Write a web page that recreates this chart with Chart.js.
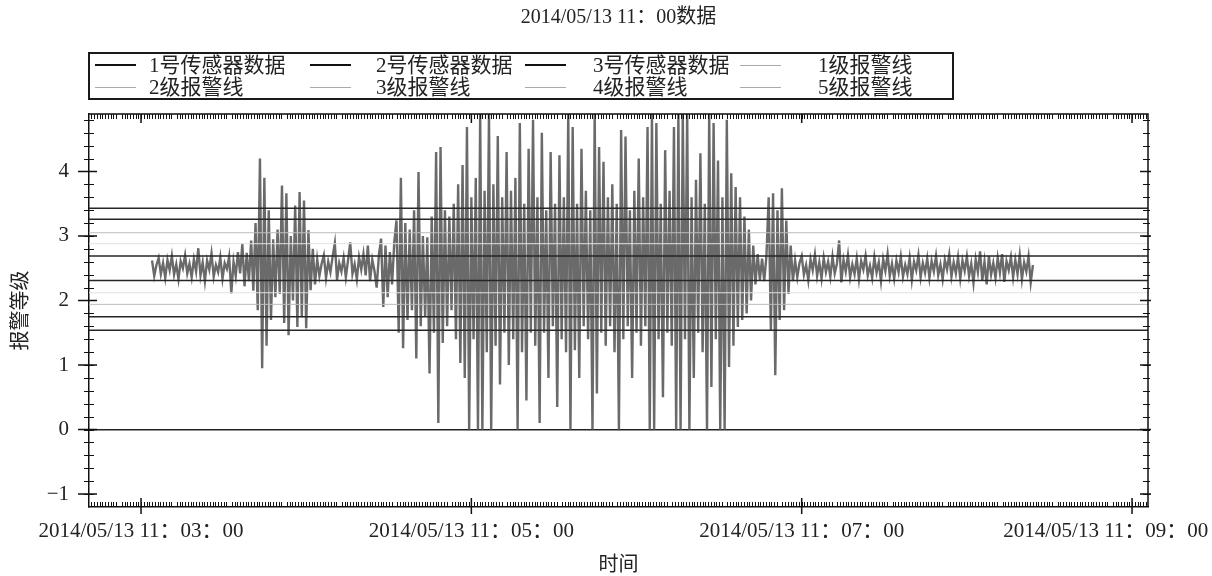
<!DOCTYPE html>
<html lang="zh-CN">
<head>
<meta charset="UTF-8">
<title>2014/05/13 11：00数据</title>
<script src="https://cdn.jsdelivr.net/npm/chart.js"></script>
<style>
  html, body { margin: 0; padding: 0; background: #fff; }
  #wrap { position: relative; width: 1212px; height: 576px; }
  #legend {
    position: absolute; left: 88px; top: 52px; width: 857px; height: 44px;
    border: 2px solid #1a1a1a; padding-left: 5px;
    display: grid; grid-template-columns: repeat(4, 215px); grid-auto-rows: 22px;
    font: 21px "Liberation Serif", "Noto Sans CJK SC", serif; color: #222; line-height: 22px;
  }
  .item { display: flex; align-items: center; white-space: nowrap; }
  .swatch { width: 41px; height: 0; }
</style>
</head>
<body>
<div id="wrap">
  <canvas id="chart" width="1212" height="576"></canvas>
  <div id="legend"></div>
</div>
<script>
// time axis in seconds after 11:00:00
const sampleStart = 184;
const sampleStep = 0.8;

// 1号传感器 readings
const sensor1 = [
  2.62, 2.38, 2.55, 2.66, 2.41, 2.58, 2.35, 2.63, 2.47, 2.69,
  2.40, 2.56, 2.33, 2.61, 2.50, 2.70, 2.42, 2.57, 2.36, 2.64,
  2.45, 2.81, 2.39, 2.59, 2.30, 2.62, 2.48, 2.73, 2.37, 2.55,
  2.44, 2.67, 2.34, 2.58, 2.49, 2.68, 2.11, 2.60, 2.38, 2.75,
  2.42,
  2.88, 2.22, 2.74, 2.30, 2.93, 2.15,
  3.20, 1.85, 4.20, 0.95, 3.90, 1.30, 3.40, 1.70, 2.95, 2.05,
  3.10, 2.10, 3.78, 1.65, 3.66, 1.46, 3.00, 2.00, 3.47, 1.59,
  3.68, 1.74, 3.55, 1.57, 3.09, 2.16, 2.80, 2.25,
  2.64, 2.38, 2.57, 2.70, 2.35, 2.60, 2.44, 2.68, 2.89, 2.32,
  2.58, 2.45, 2.66, 2.36, 2.62, 2.90, 2.41, 2.56, 2.33, 2.67,
  2.48, 2.72, 2.39, 2.85, 2.30, 2.63, 2.46, 2.20, 2.70,
  2.96, 1.90, 2.85, 2.05, 2.75, 2.25, 2.90,
  3.24, 1.50, 3.90, 1.26, 3.20, 1.70, 3.10, 1.85, 3.40, 1.10,
  3.99, 1.60, 3.00, 1.75, 2.98, 0.87, 3.30, 1.50, 4.30, 0.10,
  4.38, 1.34, 3.40, 1.60, 3.30, 1.85, 3.50, 1.40, 3.80, 1.03,
  4.10, 0.80, 4.69, 0.00, 3.60, 1.40, 3.90, 0.00, 4.90, 0.00,
  3.70, 1.20, 4.90, 0.00, 3.80, 1.30, 4.55, 0.70, 3.60, 1.50,
  4.30, 1.00, 3.70, 1.40, 3.90, 0.00, 4.75, 1.20, 3.50, 0.45,
  4.35, 1.50, 4.80, 1.30, 3.60, 0.10, 4.60, 1.50, 3.40, 0.80,
  4.30, 1.60, 3.50, 0.35, 4.25, 1.40, 3.60, 1.20, 4.90, 0.00,
  4.69, 1.23, 3.50, 0.80, 4.35, 1.60, 3.70, 1.40, 3.40, 0.00,
  4.90, 0.56, 4.38, 1.50, 4.15, 1.30, 3.60, 1.60, 3.80, 1.20,
  3.50, 0.00, 4.64, 1.40, 4.54, 1.60, 3.40, 0.80, 3.70, 1.50,
  4.20, 1.30, 3.60, 1.60, 4.69, 0.00, 4.90, 0.00, 4.75, 1.40,
  3.50, 0.50, 4.33, 1.50, 3.70, 1.30, 4.69, 0.00, 4.90, 0.00,
  4.90, 1.40, 4.90, 0.00, 3.60, 0.80, 3.87, 1.50, 4.28, 1.20,
  3.50, 0.00, 4.90, 0.66, 4.75, 1.40, 4.17, 0.00, 3.60, 0.00,
  4.80, 0.97, 3.97, 1.30, 3.76, 1.59, 3.60, 1.70, 3.30, 1.80,
  3.10, 2.00, 2.85, 2.25, 2.72, 2.32, 2.65, 2.30, 2.70, 3.60,
  1.54, 3.66, 0.84, 3.40, 1.70, 3.74, 1.85, 3.24, 2.10, 2.85, 2.30,
  2.62, 2.36, 2.58, 2.69, 2.40, 2.55, 2.31, 2.64, 2.47, 2.71,
  2.38, 2.59, 2.34, 2.66, 2.44, 2.60, 2.37, 2.68, 2.42, 2.57,
  2.93, 2.28, 2.63, 2.45, 2.70, 2.36, 2.56, 2.41, 2.65, 2.33,
  2.61, 2.48, 2.69, 2.39, 2.54, 2.35, 2.67, 2.43, 2.59, 2.30,
  2.64, 2.46, 2.72, 2.38, 2.57, 2.34, 2.62, 2.44, 2.68, 2.37,
  2.55, 2.41, 2.66, 2.32, 2.60, 2.47, 2.70, 2.36, 2.58, 2.43,
  2.65, 2.35, 2.61, 2.45, 2.69, 2.39, 2.56, 2.33, 2.63, 2.48,
  2.71, 2.37, 2.59, 2.42, 2.67, 2.34, 2.62, 2.46, 2.68, 2.38,
  2.57, 2.27, 2.64, 2.44, 2.76, 2.31, 2.60, 2.25, 2.69, 2.40,
  2.58, 2.35, 2.66, 2.43, 2.72, 2.29, 2.61, 2.47, 2.67, 2.36,
  2.63, 2.41, 2.70, 2.33, 2.59, 2.45, 2.68, 2.28, 2.55
];

const sensorNames = ['1号传感器数据', '2号传感器数据', '3号传感器数据'];
const alarmNames = ['1级报警线', '2级报警线', '3级报警线', '4级报警线', '5级报警线'];
const alarmUpper = [2.69, 2.88, 3.05, 3.26, 3.43];
const alarmLower = [2.31, 2.12, 1.94, 1.75, 1.54];
const alarmColors = ['#262626', '#e2e2e2', '#bcbcbc', '#262626', '#262626'];
const alarmWidths = [1.5, 1, 1, 1.5, 1.5];

const xTicks = [180, 300, 420, 540];
const xTickLabels = ['2014/05/13 11：03：00', '2014/05/13 11：05：00', '2014/05/13 11：07：00', '2014/05/13 11：09：00'];
const yTicks = [-1, 0, 1, 2, 3, 4];
const yTickLabels = ['\u22121', '0', '1', '2', '3', '4'];

const xMin = 161.1, xMax = 545.8;
const yMin = -1.2, yMax = 4.89;

const FONT = '"Liberation Serif", "Noto Sans CJK SC", serif';
const INK = '#222';

// legend (boxed, 4 columns)
const legendTextOffset = [54, 66, 68, 78];
const legendEntries = sensorNames.map(n => ({ text: n, color: '#111', width: 2 }))
  .concat(alarmNames.map(n => ({ text: n, color: '#aaa', width: 1 })));
const legendEl = document.getElementById('legend');
legendEntries.forEach((e, i) => {
  const item = document.createElement('div');
  item.className = 'item';
  const sw = document.createElement('span');
  sw.className = 'swatch';
  sw.style.borderTop = e.width + 'px solid ' + e.color;
  const tx = document.createElement('span');
  tx.textContent = e.text;
  tx.style.marginLeft = (legendTextOffset[i % 4] - 41) + 'px';
  item.appendChild(sw);
  item.appendChild(tx);
  legendEl.appendChild(item);
});

const datasets = [];
alarmNames.forEach((name, k) => {
  [alarmUpper[k], alarmLower[k]].forEach(v => {
    datasets.push({
      label: name,
      data: [{ x: xMin, y: v }, { x: xMax, y: v }],
      borderColor: alarmColors[k],
      borderWidth: alarmWidths[k],
      pointRadius: 0,
      order: 1
    });
  });
});
datasets.push({
  label: sensorNames[0],
  data: sensor1.map((v, i) => ({ x: sampleStart + i * sampleStep, y: v })),
  borderColor: '#6a6a6a',
  borderWidth: 2.4,
  pointRadius: 0,
  tension: 0,
  order: 2
});
datasets.push({ label: sensorNames[1], data: [], borderColor: '#111', pointRadius: 0, order: 3 });
datasets.push({ label: sensorNames[2], data: [], borderColor: '#111', pointRadius: 0, order: 3 });

// frame on top/right plus the minor and major tick marks
const frameTicks = {
  id: 'frameTicks',
  afterDatasetsDraw(chart) {
    const { ctx, chartArea: a, scales: { x, y } } = chart;
    ctx.save();
    ctx.strokeStyle = '#111';
    ctx.lineWidth = 1.5;
    ctx.beginPath();
    ctx.moveTo(a.left, a.top);
    ctx.lineTo(a.right, a.top);
    ctx.lineTo(a.right, a.bottom);
    ctx.stroke();

    ctx.lineWidth = 1;
    ctx.beginPath();
    for (let t = Math.ceil(x.min); t <= x.max; t++) {
      if (t % 20 === 12) continue;
      const px = Math.round(x.getPixelForValue(t)) + 0.5;
      ctx.moveTo(px, a.bottom); ctx.lineTo(px, a.bottom - 5);
      ctx.moveTo(px, a.top); ctx.lineTo(px, a.top + 5);
    }
    for (let k = Math.ceil(y.min / 0.2); k * 0.2 <= y.max; k++) {
      const py = Math.round(y.getPixelForValue(k * 0.2)) + 0.5;
      ctx.moveTo(a.left - 5, py); ctx.lineTo(a.left + 5, py);
      ctx.moveTo(a.right - 5, py); ctx.lineTo(a.right + 2, py);
    }
    ctx.stroke();

    ctx.lineWidth = 1.5;
    ctx.beginPath();
    xTicks.forEach(t => {
      const px = x.getPixelForValue(t);
      ctx.moveTo(px, a.bottom + 7); ctx.lineTo(px, a.bottom - 9);
      ctx.moveTo(px, a.top); ctx.lineTo(px, a.top + 9);
    });
    yTicks.forEach(v => {
      const py = y.getPixelForValue(v);
      ctx.moveTo(a.left - 11, py); ctx.lineTo(a.left + 8, py);
      ctx.moveTo(a.right - 8, py); ctx.lineTo(a.right + 3, py);
    });
    ctx.stroke();
    ctx.restore();
  }
};

new Chart(document.getElementById('chart'), {
  type: 'line',
  data: { datasets },
  options: {
    responsive: false,
    animation: false,
    devicePixelRatio: 1,
    layout: { padding: { left: 0, right: 64, top: 0, bottom: 0 } },
    plugins: {
      legend: { display: false },
      tooltip: { enabled: false },
      title: {
        display: true,
        fullSize: false,
        text: '2014/05/13 11：00数据',
        color: INK,
        font: { family: FONT, size: 20, weight: 'normal', lineHeight: 1.2 },
        padding: { top: 6, bottom: 84 }
      }
    },
    scales: {
      x: {
        type: 'linear',
        min: xMin,
        max: xMax,
        afterBuildTicks: s => { s.ticks = xTicks.map(v => ({ value: v })); },
        afterFit: s => { s.paddingLeft = 0; s.paddingRight = 0; s.height = 69; },
        grid: { display: false, drawTicks: false },
        border: { display: true, color: '#111', width: 1.5 },
        ticks: {
          autoSkip: false,
          maxRotation: 0,
          padding: 12,
          color: INK,
          font: { family: FONT, size: 21 },
          callback: (v, i) => i === xTicks.length - 1 ? xTickLabels[i] + '          ' : xTickLabels[i]
        },
        title: {
          display: true,
          text: '时间',
          color: INK,
          font: { family: FONT, size: 20, lineHeight: 1 },
          padding: { top: 0, bottom: 0 }
        }
      },
      y: {
        min: yMin,
        max: yMax,
        afterBuildTicks: s => { s.ticks = yTicks.map(v => ({ value: v })); },
        afterFit: s => { s.width = 89; s.paddingTop = 0; s.paddingBottom = 0; },
        grid: {
          drawTicks: false,
          color: c => (c.tick && c.tick.value === 0) ? '#222' : 'rgba(0,0,0,0)',
          lineWidth: 1.5
        },
        border: { display: true, color: '#111', width: 1.5 },
        ticks: {
          padding: 20,
          color: INK,
          font: { family: FONT, size: 21 },
          callback: (v, i) => yTickLabels[i]
        },
        title: {
          display: true,
          text: '报警等级',
          color: INK,
          font: { family: FONT, size: 20, lineHeight: 1.2 },
          padding: { top: 10, bottom: 0 }
        }
      }
    }
  },
  plugins: [frameTicks]
});
</script>
</body>
</html>
